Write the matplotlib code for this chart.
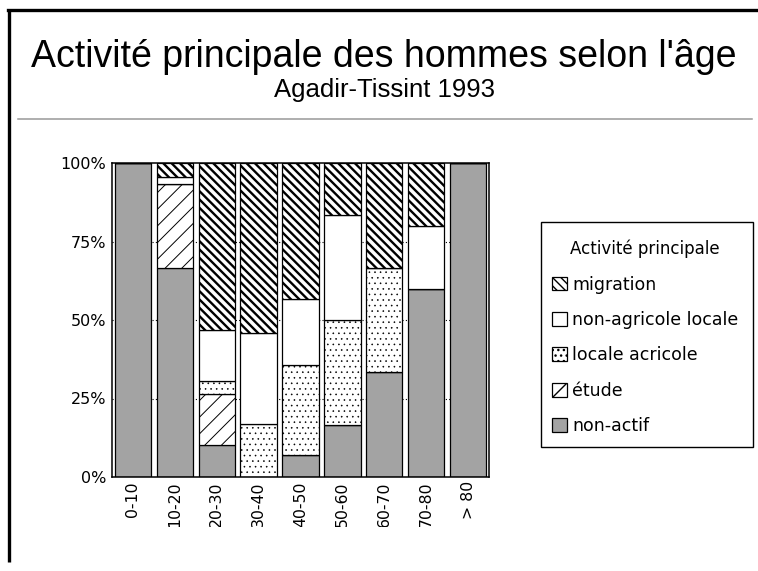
import matplotlib
matplotlib.use("Agg")
import matplotlib.pyplot as plt
from matplotlib.patches import Patch, Rectangle
from matplotlib.lines import Line2D
from matplotlib.transforms import Bbox, TransformedBbox

# ---------------- data ----------------
categories = ["0-10", "10-20", "20-30", "30-40", "40-50", "50-60", "60-70", "70-80", "> 80"]
non_actif = [100, 66.7, 10.1, 0, 7.1, 16.7, 33.3, 60, 100]
etude = [0, 26.7, 16.2, 0, 0, 0, 0, 0, 0]
locale_agricole = [0, 0, 4.3, 16.8, 28.7, 33.3, 33.4, 0, 0]
non_agricole = [0, 2.2, 16.1, 29.0, 21.0, 33.3, 0, 20, 0]
migration = [0, 4.4, 53.3, 54.2, 43.2, 16.7, 33.3, 20, 0]
y_ticks = [0, 25, 50, 75, 100]
y_tick_labels = ["0%", "25%", "50%", "75%", "100%"]

series_labels = ["non-actif", "étude", "locale acricole", "non-agricole locale", "migration"]
series_values = [non_actif, etude, locale_agricole, non_agricole, migration]

# styles: (facecolor, hatch, hatch linewidth)
styles = {
    "non-actif": ("#a3a3a3", None, 1.0),
    "étude": ("white", "//", 0.7),
    "locale acricole": ("white", "...", 0.4),
    "non-agricole locale": ("white", None, 1.0),
    "migration": ("white", "\\\\\\\\", 1.7),
}

W, H = 758, 571
fig = plt.figure(figsize=(W / 100, H / 100), dpi=100)
fig.patch.set_facecolor("white")

ax = fig.add_axes([112 / W, 1 - 477 / H, 377 / W, 314 / H])

x = list(range(len(categories)))
bottom = [0.0] * len(categories)
for lab, vals in zip(series_labels, series_values):
    fc, hatch, hlw = styles[lab]
    with plt.rc_context({"hatch.linewidth": hlw}):
        bars = ax.bar(x, vals, width=0.87, bottom=bottom, color=fc, edgecolor="black",
                      linewidth=0.9, hatch=hatch, zorder=3)
        for b in bars:
            if hasattr(b, "set_hatch_linewidth"):
                b.set_hatch_linewidth(hlw)
    bottom = [b0 + v for b0, v in zip(bottom, vals)]

ax.set_xlim(-0.5, len(categories) - 0.5)
ax.set_ylim(0, 100)
ax.set_yticks(y_ticks)
ax.set_yticklabels(y_tick_labels, family="DejaVu Sans", fontsize=11.5)
ax.set_xticks(x)
ax.set_xticklabels(categories, rotation=90, family="DejaVu Sans", fontsize=11.3,
                   va="top", ha="center")
ax.tick_params(axis="both", length=0)
ax.tick_params(axis="y", pad=4)
ax.tick_params(axis="x", pad=3)
for v in [25, 50, 75]:
    ax.axhline(v, color="black", linewidth=0.8, linestyle=(0, (1, 2)), zorder=1)
for s in ax.spines.values():
    s.set_linewidth(1.1)
    s.set_zorder(4)

# clip x tick labels at the bottom like the reference
clip = TransformedBbox(Bbox([[0, (H - 527) / H], [1, 1]]), fig.transFigure)
for t in ax.get_xticklabels():
    t.set_clip_box(clip)
    t.set_clip_on(True)

# ---------------- titles ----------------
fig.text(384 / W, 1 - 67 / H, "Activité principale des hommes selon l'âge",
         family="Liberation Sans", fontsize=27, ha="center", va="baseline")
fig.text(384 / W, 1 - 96.5 / H, "Agadir-Tissint 1993",
         family="Liberation Sans", fontsize=18.5, ha="center", va="baseline")

# separator and frame lines
fig.add_artist(Line2D([18 / W, 752 / W], [1 - 119 / H, 1 - 119 / H],
                      transform=fig.transFigure, color="#999999", linewidth=1.1))
fig.add_artist(Line2D([7.5 / W, 1.0], [1 - 9.5 / H, 1 - 9.5 / H],
                      transform=fig.transFigure, color="black", linewidth=2.4))
fig.add_artist(Line2D([9 / W, 9 / W], [1 - 8.5 / H, 1 - 562 / H],
                      transform=fig.transFigure, color="black", linewidth=2.4,
                      solid_capstyle="butt"))

# ---------------- legend ----------------
handles = []
for lab in reversed(series_labels):
    fc, hatch, hlw = styles[lab]
    with plt.rc_context({"hatch.linewidth": hlw}):
        p = Patch(facecolor=fc, edgecolor="black", hatch=hatch, linewidth=0.9)
        if hasattr(p, "set_hatch_linewidth"):
            p.set_hatch_linewidth(hlw)
    handles.append(p)

# legend frame drawn explicitly
fig.add_artist(Rectangle((541 / W, 1 - 447 / H), 212 / W, 225 / H,
                         transform=fig.transFigure, facecolor="white",
                         edgecolor="black", linewidth=1.0, zorder=1))

leg = fig.legend(handles=handles, labels=list(reversed(series_labels)),
                 title="Activité principale", loc="upper left",
                 bbox_to_anchor=(552 / W, 1 - 239 / H),
                 prop={"family": "DejaVu Sans", "size": 12.5},
                 title_fontproperties={"family": "DejaVu Sans", "size": 12},
                 frameon=False,
                 handlelength=0.85, handleheight=0.85, handletextpad=0.3,
                 labelspacing=1.0, borderpad=0, borderaxespad=0)
leg.set_zorder(2)
leg._legend_box.sep = 13

fig.savefig("out.png", dpi=100)
